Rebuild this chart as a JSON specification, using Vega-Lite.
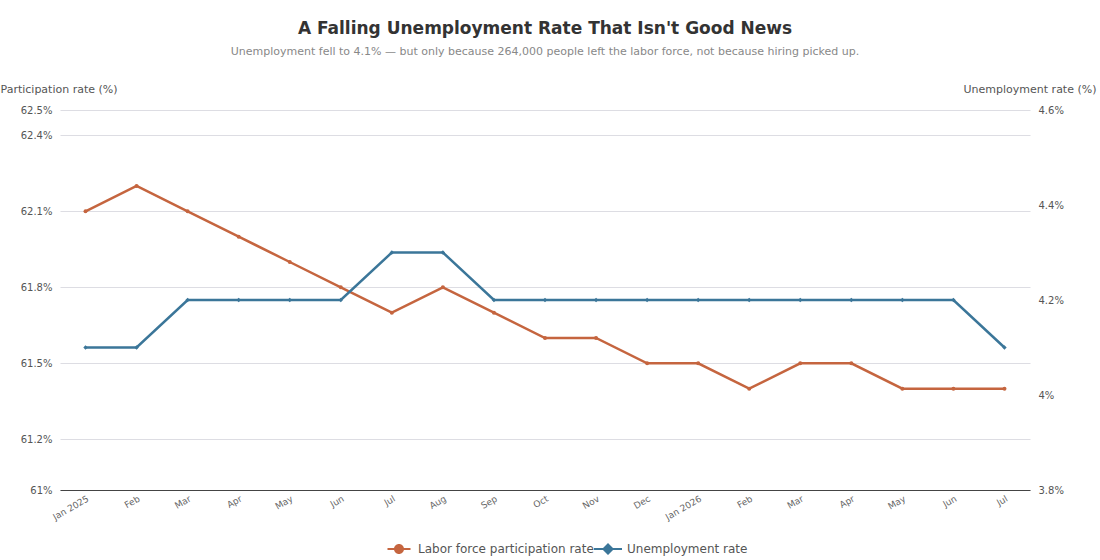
{
  "$schema": "https://vega.github.io/schema/vega-lite/v6.json",
  "width": 970,
  "height": 380,
  "autosize": {"type": "none"},
  "padding": {"left": 60, "top": 110, "right": 70, "bottom": 70},
  "title": {
    "text": "A Falling Unemployment Rate That Isn't Good News",
    "subtitle": "Unemployment fell to 4.1% — but only because 264,000 people left the labor force, not because hiring picked up.",
    "anchor": "middle",
    "offset": 25,
    "fontSize": 17,
    "fontWeight": "bold",
    "color": "#333333",
    "subtitleFontSize": 11,
    "subtitleColor": "#888888",
    "subtitlePadding": 8
  },
  "data": {
    "values": [
      {"date": "2025-01-15", "participation": 62.1, "unemployment": 4.1},
      {"date": "2025-02-15", "participation": 62.2, "unemployment": 4.1},
      {"date": "2025-03-15", "participation": 62.1, "unemployment": 4.2},
      {"date": "2025-04-15", "participation": 62.0, "unemployment": 4.2},
      {"date": "2025-05-15", "participation": 61.9, "unemployment": 4.2},
      {"date": "2025-06-15", "participation": 61.8, "unemployment": 4.2},
      {"date": "2025-07-15", "participation": 61.7, "unemployment": 4.3},
      {"date": "2025-08-15", "participation": 61.8, "unemployment": 4.3},
      {"date": "2025-09-15", "participation": 61.7, "unemployment": 4.2},
      {"date": "2025-10-15", "participation": 61.6, "unemployment": 4.2},
      {"date": "2025-11-15", "participation": 61.6, "unemployment": 4.2},
      {"date": "2025-12-15", "participation": 61.5, "unemployment": 4.2},
      {"date": "2026-01-15", "participation": 61.5, "unemployment": 4.2},
      {"date": "2026-02-15", "participation": 61.4, "unemployment": 4.2},
      {"date": "2026-03-15", "participation": 61.5, "unemployment": 4.2},
      {"date": "2026-04-15", "participation": 61.5, "unemployment": 4.2},
      {"date": "2026-05-15", "participation": 61.4, "unemployment": 4.2},
      {"date": "2026-06-15", "participation": 61.4, "unemployment": 4.2},
      {"date": "2026-07-15", "participation": 61.4, "unemployment": 4.1}
    ]
  },
  "encoding": {
    "x": {
      "field": "date",
      "type": "ordinal",
      "timeUnit": "yearmonth",
      "title": null,
      "axis": {
        "labelExpr": "month(datum.value) == 0 ? timeFormat(datum.value, '%b %Y') : timeFormat(datum.value, '%b')",
        "labelAngle": -30,
        "labelAlign": "right",
        "labelBaseline": "top",
        "labelFontSize": 9,
        "labelColor": "#666666",
        "labelPadding": 4,
        "ticks": false,
        "domainColor": "#444444",
        "grid": false
      }
    }
  },
  "layer": [
    {
      "encoding": {
        "y": {
          "field": "participation",
          "type": "quantitative",
          "scale": {"domain": [61, 62.5], "nice": false, "zero": false},
          "axis": {
            "orient": "left",
            "title": "Participation rate (%)",
            "titleAngle": 0,
            "titleAlign": "left",
            "titleBaseline": "middle",
            "titleX": -60,
            "titleY": -21,
            "values": [61, 61.2, 61.5, 61.8, 62.1, 62.4, 62.5],
            "labelExpr": "datum.value + '%'"
          }
        },
        "color": {
          "datum": "Labor force participation rate",
          "scale": {
            "domain": ["Labor force participation rate", "Unemployment rate"],
            "range": ["#c5653f", "#3b7699"]
          },
          "legend": {
            "orient": "none",
            "direction": "horizontal",
            "legendX": 333,
            "legendY": 433,
            "title": null,
            "columnPadding": 0,
            "labelOffset": 13,
            "labelLimit": 400,
            "symbolSize": 100,
            "symbolOpacity": 1
          }
        }
      },
      "layer": [
        {
          "mark": {"type": "point", "filled": true, "size": 0, "opacity": 1},
          "encoding": {
            "shape": {
              "datum": "Labor force participation rate",
              "scale": {
                "domain": ["Labor force participation rate", "Unemployment rate"],
                "range": [
                  "M-2.3,-0.22H2.3V0.22H-2.3Z M-1,0A1,1 0 1,1 1,0A1,1 0 1,1 -1,0Z",
                  "M-2.8,-0.22H2.8V0.22H-2.8Z M0,-1.2L1.2,0L0,1.2L-1.2,0Z"
                ]
              }
            }
          }
        },
        {"mark": {"type": "line", "strokeWidth": 2.5}},
        {"mark": {"type": "point", "filled": true, "size": 16, "opacity": 1, "shape": "circle"}}
      ]
    },
    {
      "encoding": {
        "y": {
          "field": "unemployment",
          "type": "quantitative",
          "scale": {"domain": [3.8, 4.6], "nice": false, "zero": false},
          "axis": {
            "orient": "right",
            "title": "Unemployment rate (%)",
            "titleAngle": 0,
            "titleAlign": "right",
            "titleBaseline": "middle",
            "titleX": 66,
            "titleY": -21,
            "values": [3.8, 4, 4.2, 4.4, 4.6],
            "labelExpr": "datum.value + '%'"
          }
        },
        "color": {"datum": "Unemployment rate"}
      },
      "layer": [
        {
          "mark": {"type": "point", "filled": true, "size": 0, "opacity": 1},
          "encoding": {"shape": {"datum": "Unemployment rate"}}
        },
        {"mark": {"type": "line", "strokeWidth": 2.5}},
        {"mark": {"type": "point", "filled": true, "size": 20, "opacity": 1, "shape": "diamond"}}
      ]
    }
  ],
  "resolve": {"scale": {"y": "independent"}},
  "config": {
    "font": "DejaVu Sans",
    "view": {"stroke": null},
    "axis": {
      "labelFontSize": 10,
      "labelColor": "#555555",
      "titleFontSize": 11,
      "titleFontWeight": "normal",
      "titleColor": "#555555",
      "ticks": false,
      "domain": false,
      "labelPadding": 8,
      "gridColor": "#dddde3"
    },
    "axisX": {"domain": true},
    "legend": {
      "labelFontSize": 12,
      "labelColor": "#555555",
      "symbolStrokeWidth": 0
    }
  }
}
